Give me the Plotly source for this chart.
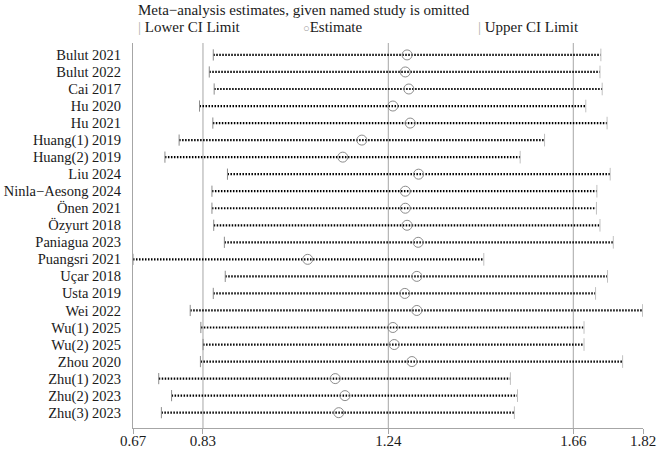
import plotly.graph_objects as go

studies = ["Bulut 2021", "Bulut 2022", "Cai 2017", "Hu 2020", "Hu 2021",
           "Huang(1) 2019", "Huang(2) 2019", "Liu 2024", "Ninla\u2212Aesong 2024",
           "Önen 2021", "Özyurt 2018", "Paniagua 2023", "Puangsri 2021",
           "Uçar 2018", "Usta 2019", "Wei 2022", "Wu(1) 2025", "Wu(2) 2025",
           "Zhou 2020", "Zhu(1) 2023", "Zhu(2) 2023", "Zhu(3) 2023"]
estimate = [1.288, 1.284, 1.292, 1.256, 1.295, 1.186, 1.143, 1.314, 1.284,
            1.284, 1.288, 1.313, 1.064, 1.310, 1.283, 1.310, 1.256, 1.259,
            1.299, 1.126, 1.148, 1.134]
lower = [0.851, 0.842, 0.853, 0.820, 0.850, 0.774, 0.742, 0.883, 0.848,
         0.848, 0.852, 0.876, 0.670, 0.878, 0.851, 0.799, 0.823, 0.828,
         0.822, 0.728, 0.757, 0.734]
upper = [1.725, 1.723, 1.728, 1.691, 1.739, 1.598, 1.543, 1.746, 1.716,
         1.715, 1.723, 1.753, 1.461, 1.740, 1.713, 1.819, 1.687, 1.687,
         1.774, 1.521, 1.537, 1.530]

overall = [0.8278, 1.2457, 1.6628]          # overall lower CI, estimate, upper CI
axis_range = [0.67, 1.82]
tick_vals = [0.67, 0.8278, 1.2457, 1.6628, 1.82]
tick_text = ["0.67", "0.83", "1.24", "1.66", "1.82"]

FONT = "Liberation Serif"
TXT = "#1a1a1a"
GREY = "#a6a6a6"

rows = list(range(len(studies)))

lx, ly = [], []
for i, (lo, hi) in enumerate(zip(lower, upper)):
    lx += [lo, hi, None]
    ly += [i, i, None]

fig = go.Figure()
fig.add_trace(go.Scatter(x=lx, y=ly, mode="lines",
                         line=dict(color="#000000", width=2.2, dash="1.5px,1.5px"),
                         hoverinfo="skip", showlegend=False))
fig.add_trace(go.Scatter(x=lower, y=rows, mode="markers",
                         marker=dict(symbol="line-ns", size=8,
                                     line=dict(color="#8c8c8c", width=1)),
                         showlegend=False))
fig.add_trace(go.Scatter(x=upper, y=rows, mode="markers",
                         marker=dict(symbol="line-ns", size=9,
                                     line=dict(color="#c0c0c0", width=1)),
                         showlegend=False))
fig.add_trace(go.Scatter(x=estimate, y=rows, mode="markers",
                         marker=dict(symbol="circle-open", size=10,
                                     color="#8c8c8c", line=dict(width=1)),
                         showlegend=False))

for v in overall:
    fig.add_shape(type="line", xref="x", yref="paper", x0=v, x1=v, y0=0, y1=1,
                  line=dict(color=GREY, width=1), layer="below")

fig.add_annotation(xref="paper", yref="paper", x=0.006, y=1.086,
                   xanchor="left", yanchor="middle", showarrow=False,
                   text="Meta\u2212analysis estimates, given named study is omitted",
                   font=dict(family=FONT, size=15, color=TXT))
legend_items = [("<span style='color:#b0b0b0'>|</span> Lower CI Limit", 0.006),
                ("<span style='color:#9a9a9a;font-size:11px'>○</span>Estimate", 0.33),
                ("<span style='color:#b0b0b0'>|</span> Upper CI Limit", 0.672)]
for txt, px in legend_items:
    fig.add_annotation(xref="paper", yref="paper", x=px, y=1.042,
                       xanchor="left", yanchor="middle", showarrow=False,
                       text=txt, font=dict(family=FONT, size=15, color=TXT))

fig.update_layout(
    width=661, height=450, autosize=False,
    margin=dict(l=133, r=18, t=43, b=22),
    plot_bgcolor="white", paper_bgcolor="white",
    font=dict(family=FONT, size=15, color=TXT),
    xaxis=dict(range=axis_range, tickvals=tick_vals, ticktext=tick_text,
               showline=True, linecolor=GREY, linewidth=1, ticks="outside",
               ticklen=5, tickcolor=GREY, showgrid=False, zeroline=False,
               automargin=False, ticklabelstandoff=-6,
               tickfont=dict(family=FONT, size=15, color=TXT)),
    yaxis=dict(range=[len(studies) - 0.1, -0.7], tickvals=rows, ticktext=studies,
               showline=True, linecolor=GREY, linewidth=1, ticks="",
               showgrid=False, zeroline=False, automargin=False,
               ticklabelstandoff=8,
               tickfont=dict(family=FONT, size=14.5, color=TXT)),
)

fig.write_html("out.html")
